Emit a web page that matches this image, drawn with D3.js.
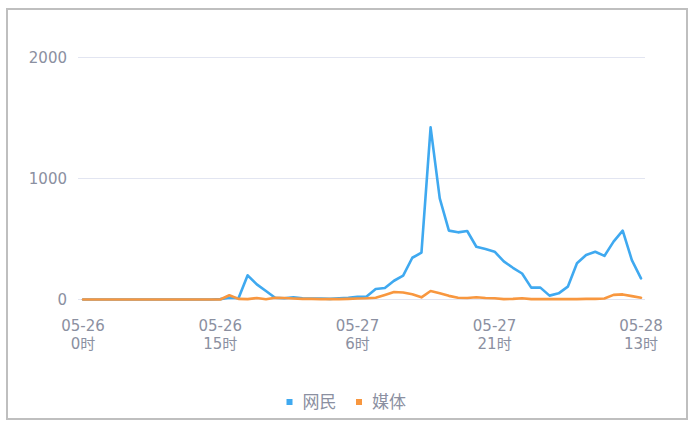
<!DOCTYPE html>
<html>
<head>
<meta charset="utf-8">
<script src="https://cdn.jsdelivr.net/npm/d3@7/dist/d3.min.js"></script>
<style>
html,body{margin:0;padding:0;background:#fff;}
svg{display:block;}
</style>
</head>
<body>
<svg id="chart" width="699" height="429"></svg>
<script>
// ---- data ----
const days = ["05-26", "05-27", "05-28"];
const categories = [];
const dayOf = [0,0,0,0,0,0,0,0,0,0,0,0,0,0,0,0,0,0,0,0,0,0,0,0,
               1,1,1,1,1,1,1,1,1,1,1,1,1,1,1,1,1,1,1,1,1,1,1,1,
               2,2,2,2,2,2,2,2,2,2,2,2,2,2];
const hourOf = [0,1,2,3,4,5,6,7,8,9,10,11,12,13,14,15,16,17,18,19,20,21,22,23,
                0,1,2,3,4,5,6,7,8,9,10,11,12,13,14,15,16,17,18,19,20,21,22,23,
                0,1,2,3,4,5,6,7,8,9,10,11,12,13];
dayOf.forEach((d, i) => categories.push(days[d] + " " + hourOf[i] + "时"));

const netizens = [0,0,0,0,0,0,0,0,0,0,0,0,0,0,0,3,15,10,200,125,70,15,10,18,
                  10,8,8,5,10,15,22,25,87,95,155,197,345,387,1423,836,569,555,566,436,417,395,315,262,
                  215,98,98,32,51,106,299,368,395,360,478,569,326,175];
const media = [0,0,0,0,0,0,0,0,0,0,0,0,0,0,0,0,35,5,3,12,2,15,12,8,
               5,5,3,3,3,5,8,10,15,38,62,58,43,18,70,52,30,15,12,18,12,10,3,5,
               10,3,3,3,3,3,3,5,5,8,38,42,28,15];
const seriesNames = ["网民", "媒体"];
const seriesColors = ["#3fa9f0", "#f8973f"];
const yTicks = [0, 1000, 2000];
const xTickIndex = [0, 15, 30, 45, 61];
const xTickLabels = [["05-26", "0时"], ["05-26", "15时"], ["05-27", "6时"], ["05-27", "21时"], ["05-28", "13时"]];

// ---- drawing ----
const svg = d3.select("#chart");
const font = "'DejaVu Sans','Noto Sans CJK SC',sans-serif";
const textColor = "#8b90a1";

svg.append("rect").attr("x", 7).attr("y", 9).attr("width", 680).attr("height", 410)
  .attr("fill", "none").attr("stroke", "#bfbfbf").attr("stroke-width", 2);

const x = d3.scalePoint().domain(categories).range([83, 641]);
const y = d3.scaleLinear().domain([0, 2000]).range([299.5, 57.5]);

// grid
svg.append("g").selectAll("line").data(yTicks).join("line")
  .attr("x1", 78).attr("x2", 645)
  .attr("y1", d => y(d)).attr("y2", d => y(d))
  .attr("stroke", "#e2e5f1").attr("stroke-width", 1);

// y labels
const yAxis = d3.axisLeft(y).tickValues(yTicks).tickFormat(d3.format("d")).tickSize(0).tickPadding(0);
const yg = svg.append("g").attr("transform", "translate(67,0)").call(yAxis);
yg.select(".domain").remove();
yg.selectAll("text").attr("font-family", font).attr("font-size", 15)
  .attr("fill", textColor).attr("dy", "0.35em");

// x labels
const xg = svg.append("g");
xTickIndex.forEach((idx, i) => {
  const cx = x(categories[idx]);
  xg.append("text").attr("x", cx).attr("y", 331).attr("text-anchor", "middle")
    .attr("font-family", font).attr("font-size", 15).attr("fill", textColor)
    .text(xTickLabels[i][0]);
  xg.append("text").attr("x", cx).attr("y", 349).attr("text-anchor", "middle")
    .attr("font-family", font).attr("font-size", 15).attr("fill", textColor)
    .text(xTickLabels[i][1]);
});

// lines
const line = d3.line().x((d, i) => x(categories[i])).y(d => y(d));
[netizens, media].forEach((s, k) => {
  svg.append("path").datum(s).attr("d", line)
    .attr("fill", "none").attr("stroke", seriesColors[k])
    .attr("stroke-width", 2.6).attr("stroke-linejoin", "round").attr("stroke-linecap", "round");
});

// legend
const legendX = [289.5, 359];
seriesNames.forEach((n, k) => {
  svg.append("rect").attr("x", legendX[k] - 3).attr("y", 399).attr("width", 6).attr("height", 6)
    .attr("fill", seriesColors[k]);
  svg.append("text").attr("x", legendX[k] + 13).attr("y", 402).attr("dy", "0.35em")
    .attr("font-family", "'Noto Sans CJK SC',sans-serif").attr("font-size", 17)
    .attr("fill", textColor).text(n);
});
</script>
</body>
</html>
